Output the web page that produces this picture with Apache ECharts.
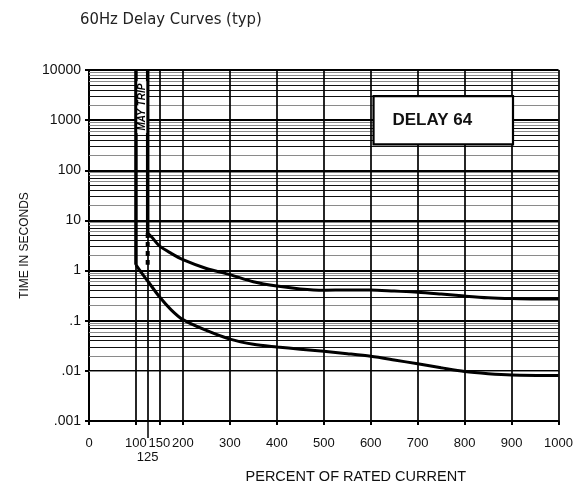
<!DOCTYPE html>
<html><head><meta charset="utf-8">
<script src="https://cdn.jsdelivr.net/npm/echarts@6/dist/echarts.min.js"></script>
<style>html,body{margin:0;padding:0;background:#fff}#c{width:576px;height:492px}</style>
</head><body><div id="c"></div>
<script>
const chartTitle = '60Hz Delay Curves (typ)';
const xAxisName = 'PERCENT OF RATED CURRENT';
const yAxisName = 'TIME IN SECONDS';
const xLabelValues = [0, 100, 150, 200, 300, 400, 500, 600, 700, 800, 900, 1000];
const xExtraLabelValues = [125];
const xGridValues = [100, 125, 150, 200, 300, 400, 500, 600, 700, 800, 900, 1000];
const yDecadeValues = [0.001, 0.01, 0.1, 1, 10, 100, 1000, 10000];
const yDecadeLabels = ['.001', '.01', '.1', '1', '10', '100', '1000', '10000'];
const minorMultipliers = [2, 3, 4, 5, 6, 7, 8, 9];
const boxLabel = 'DELAY 64';
const mayTripLabel = 'MAY TRIP';

// max-trip boundary (vertical part then curve)
const maxVertical = [[125, 10000], [125, 5.6]];
const maxCurve = [[125, 5.6], [135, 4.5], [150, 3.1], [175, 2.2], [200, 1.65], [250, 1.1], [300, 0.83],
  [350, 0.6], [400, 0.49], [450, 0.43], [500, 0.405], [550, 0.41], [600, 0.41], [650, 0.39],
  [700, 0.37], [750, 0.34], [800, 0.31], [850, 0.287], [900, 0.276], [950, 0.272], [1000, 0.27]];
// min-trip boundary
const minVertical = [[100, 10000], [100, 1.3]];
const minCurve = [[100, 1.3], [112, 0.9], [125, 0.62], [150, 0.3], [175, 0.165], [200, 0.105],
  [250, 0.064], [300, 0.043], [350, 0.034], [400, 0.03], [450, 0.027], [500, 0.0245], [550, 0.022],
  [600, 0.0195], [650, 0.0165], [700, 0.0138], [750, 0.0115], [800, 0.0097], [850, 0.0088],
  [900, 0.0083], [1000, 0.0081]];
const transitionDash = [[125, 5.6], [125, 1.3]];

const grayMinor = new Set([2, 6, 8, 9]);
const gridLines = [];
for (let d = 0; d < yDecadeValues.length - 1; d++) {
  for (const m of minorMultipliers) {
    const v = +(m * yDecadeValues[d]).toPrecision(6);
    gridLines.push({ yAxis: v, lineStyle: { color: grayMinor.has(m) ? '#8a8a8a' : '#111', width: 1.2, type: 'solid' } });
  }
}
for (const v of xGridValues) {
  gridLines.push({ xAxis: v, lineStyle: { color: '#000', width: 1.7, type: 'solid' } });
}

const FONT = 'Liberation Sans, Arial, sans-serif';
const chart = echarts.init(document.getElementById('c'), null, { renderer: 'canvas' });
chart.setOption({
  animation: false,
  backgroundColor: '#fff',
  title: { text: chartTitle, left: 75, top: 6,
    textStyle: { fontSize: 16.5, fontWeight: 'normal', color: '#222', fontFamily: 'Liberation Sans Narrow, DejaVu Sans Condensed, sans-serif' } },
  grid: { left: 89, right: 15, top: 70, bottom: 71, containLabel: false },
  xAxis: [{
    type: 'value', min: 0, max: 1000, interval: 50,
    name: xAxisName, nameLocation: 'middle', nameGap: 48,
    nameTextStyle: { fontSize: 14.5, color: '#111', fontFamily: FONT, padding: [0, 0, 0, 64] },
    axisLine: { show: true, lineStyle: { color: '#000', width: 2 } },
    axisTick: { show: true, customValues: xLabelValues, length: 4, lineStyle: { color: '#000', width: 2 } },
    axisLabel: { show: true, customValues: xLabelValues, margin: 16, fontSize: 13, color: '#111', fontFamily: FONT,
      hideOverlap: false, formatter: v => String(v) },
    splitLine: { show: false }
  }, {
    type: 'value', min: 0, max: 1000, interval: 50, position: 'bottom',
    axisLine: { show: false },
    axisTick: { show: true, customValues: xExtraLabelValues, length: 17, lineStyle: { color: '#000', width: 1.5 } },
    axisLabel: { show: true, customValues: xExtraLabelValues, margin: 30, fontSize: 13, color: '#111', fontFamily: FONT,
      formatter: v => String(v) },
    splitLine: { show: false }
  }],
  yAxis: {
    type: 'log', logBase: 10, min: 0.001, max: 10000, interval: 1,
    name: yAxisName, nameLocation: 'middle', nameGap: 51,
    nameTextStyle: { fontSize: 12, color: '#111', fontFamily: FONT },
    axisLine: { show: true, lineStyle: { color: '#000', width: 2 } },
    axisTick: { show: true, length: 4, lineStyle: { color: '#000', width: 2 } },
    axisLabel: { margin: 8, fontSize: 14, color: '#111', fontFamily: FONT,
      formatter: v => { const i = Math.round(Math.log10(v)) + 3; return yDecadeLabels[i] !== undefined ? yDecadeLabels[i] : ''; } },
    splitLine: { show: true, lineStyle: { color: '#000', width: 2.2 } }
  },
  series: [
    { type: 'line', name: 'grid', data: [], silent: true, z: 1,
      markLine: { silent: true, symbol: ['none', 'none'], z: 1, label: { show: false }, animation: false, data: gridLines } },
    { type: 'line', name: 'box', data: [], silent: true, z: 3,
      markArea: { silent: true, z: 3,
        itemStyle: { color: '#fff', borderColor: '#000', borderWidth: 2.2 },
        label: { show: true, position: 'insideLeft', distance: 20, formatter: boxLabel, fontSize: 17, fontWeight: 'bold', color: '#111', fontFamily: FONT },
        data: [[{ coord: [606, 3000] }, { coord: [903, 330] }]] } },
    { type: 'line', data: maxVertical, symbol: 'none', z: 4, lineStyle: { color: '#000', width: 3.5 } },
    { type: 'line', data: minVertical, symbol: 'none', z: 4, lineStyle: { color: '#000', width: 3.5 },
      markPoint: { z: 6, silent: true, data: [{ coord: [112.5, 1820], symbol: 'rect', symbolSize: [9, 52],
        itemStyle: { color: '#fff' },
        label: { show: true, position: 'inside', formatter: mayTripLabel, rotate: 90, fontSize: 10, fontStyle: 'italic', fontWeight: 'bold', color: '#000', fontFamily: FONT } }] } },
    { type: 'line', data: maxCurve, symbol: 'none', smooth: 0.3, z: 4, lineStyle: { color: '#000', width: 3 } },
    { type: 'line', data: minCurve, symbol: 'none', smooth: 0.3, z: 4, lineStyle: { color: '#000', width: 3 } },
    { type: 'line', data: transitionDash, symbol: 'none', z: 5, lineStyle: { color: '#000', width: 4, type: [5, 4] } }
  ]
});
</script>
</body></html>
